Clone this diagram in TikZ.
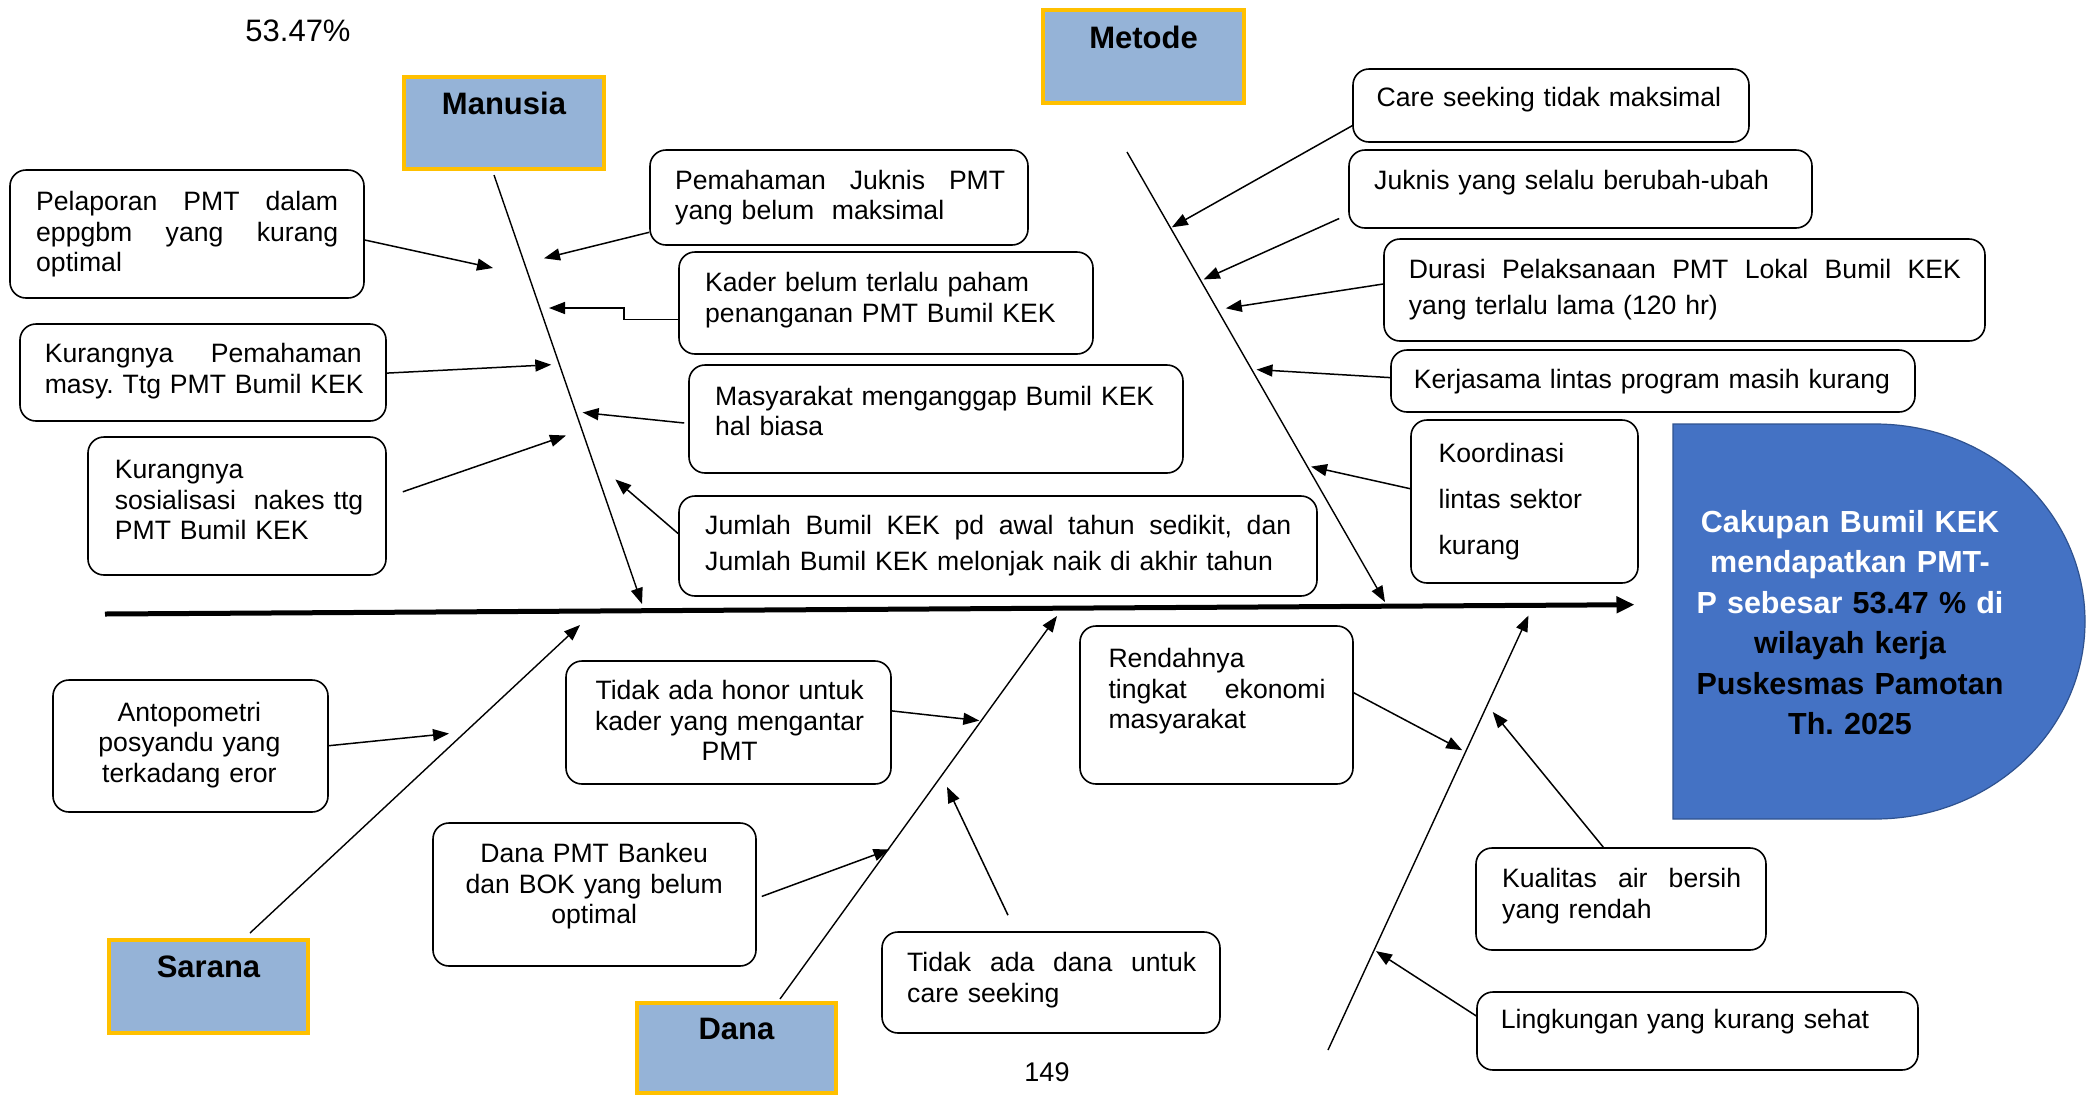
\documentclass[tikz,border=0pt]{standalone}
\usepackage{fontspec}
\setmainfont{Liberation Sans}
\usetikzlibrary{arrows.meta,calc}
\definecolor{catfill}{HTML}{95B3D7}
\definecolor{catedge}{HTML}{FFC000}
\definecolor{effill}{HTML}{4472C4}
\definecolor{efedge}{HTML}{2F528F}
\newcommand{\jline}[2]{\leavevmode\hbox to #1{#2}}
\begin{document}
\frenchspacing
\begin{tikzpicture}[x=1pt,y=-1pt,
  cbox/.style={draw=black, line width=1.6pt, rounded corners=16pt, fill=white, inner sep=0pt},
  catbox/.style={draw=catedge, line width=4.5pt, fill=catfill, inner sep=0pt},
  catlbl/.style={inner sep=0pt, anchor=base, font=\fontsize{31}{36}\selectfont\bfseries},
  txt/.style={inner sep=0pt, anchor=base west, align=left, font=\fontsize{26.6}{30.6}\selectfont},
  ctxt/.style={inner sep=0pt, anchor=base, align=center, font=\fontsize{26.6}{30.6}\selectfont},
  bone/.style={line width=1.4pt, -{Triangle[length=16pt,width=12pt]}},
  arr/.style={line width=1.5pt, -{Triangle[length=16pt,width=12pt]}},
  spine/.style={line width=5pt, -{Triangle[length=18pt,width=16pt]}}
]
\useasboundingbox[fill=white] (0,0) rectangle (2089,1096);

% title percentage and page number
\node[inner sep=0pt, anchor=base, font=\fontsize{31}{36}\selectfont] (pct) at (298,41.3) {53.47\%};
\node[inner sep=0pt, anchor=base, font=\fontsize{27}{31}\selectfont] (pg) at (1047,1081) {149};

% effect shape
\fill[effill, draw=efedge, line width=1.2pt] (1673,424) -- (1875,424)
  .. controls (1991,424) and (2085,512.4) .. (2085,621.5)
  .. controls (2085,730.6) and (1991,819) .. (1875,819) -- (1673,819) -- cycle;
\node[inner sep=0pt, anchor=base, align=center, text width=400pt,
      font=\fontsize{30.5}{40.4}\selectfont\bfseries] (eff) at (1850,532.5)
  {\textcolor{white}{Cakupan Bumil KEK}\\
   \textcolor{white}{mendapatkan PMT-}\\
   \textcolor{white}{P sebesar} 53.47 \% \textcolor{white}{di}\\
   wilayah kerja\\
   Puskesmas Pamotan\\
   Th. 2025};

% category boxes
\node[catbox, minimum width=200pt, minimum height=92pt] (man) at (504,123) {};
\node[catlbl] (manl) at (504,114.8) {Manusia};
\node[catbox, minimum width=201pt, minimum height=93pt] (met) at (1143.5,56.5) {};
\node[catlbl] (metl) at (1143.5,48.2) {Metode};
\node[catbox, minimum width=199pt, minimum height=93pt] (sar) at (208.5,986.5) {};
\node[catlbl] (sarl) at (208.5,977.6) {Sarana};
\node[catbox, minimum width=199pt, minimum height=90pt] (dan) at (736.5,1048) {};
\node[catlbl] (danl) at (736.5,1039.2) {Dana};

% spine
\coordinate (s0) at (105,614);
\coordinate (s1) at (1634.5,604.7);
\draw[spine] (s0) -- (s1);

% bones
\coordinate (mh) at (494,175);   \coordinate (mt) at (642,604);
\coordinate (eh) at (1127,152);  \coordinate (et) at (1385,602);
\coordinate (sh) at (250,933);   \coordinate (st) at (580,625);
\coordinate (dh) at (780,999);   \coordinate (dt) at (1057,616);
\coordinate (lh) at (1328,1050); \coordinate (lt) at (1528.5,615.5);
\draw[bone] (mh) -- (mt);
\draw[bone] (eh) -- (et);
\draw[bone] (sh) -- (st);
\draw[bone] (dh) -- (dt);
\draw[bone] (lh) -- (lt);

% cause boxes
\node[cbox, minimum width=354pt, minimum height=128pt] (b1) at (187,234) {};
\node[cbox, minimum width=378pt, minimum height=95pt] (b2) at (839,197.5) {};
\node[cbox, minimum width=414pt, minimum height=102pt] (b3) at (886,303) {};
\node[cbox, minimum width=366pt, minimum height=97pt] (b4) at (203,372.5) {};
\node[cbox, minimum width=494pt, minimum height=108pt] (b5) at (936,419) {};
\node[cbox, minimum width=298pt, minimum height=138pt] (b6) at (237,506) {};
\node[cbox, minimum width=638pt, minimum height=100pt] (b7) at (998,546) {};
\node[cbox, minimum width=396pt, minimum height=73pt] (b8) at (1551,105.5) {};
\node[cbox, minimum width=463pt, minimum height=78pt] (b9) at (1580.5,189) {};
\node[cbox, minimum width=601pt, minimum height=102pt] (b10) at (1684.5,290) {};
\node[cbox, minimum width=524pt, minimum height=62pt] (b11) at (1653,381) {};
\node[cbox, minimum width=227pt, minimum height=163pt] (b12) at (1524.5,501.5) {};
\node[cbox, minimum width=275pt, minimum height=132pt] (b13) at (190.5,746) {};
\node[cbox, minimum width=325pt, minimum height=123pt] (b14) at (728.5,722.5) {};
\node[cbox, minimum width=323pt, minimum height=143pt] (b15) at (594.5,894.5) {};
\node[cbox, minimum width=338pt, minimum height=101pt] (b16) at (1051,982.5) {};
\node[cbox, minimum width=273pt, minimum height=158pt] (b17) at (1216.5,705) {};
\node[cbox, minimum width=290pt, minimum height=102pt] (b18) at (1621,899) {};
\node[cbox, minimum width=441pt, minimum height=78pt] (b19) at (1697.5,1031) {};

% cause texts
\node[txt, text width=340pt] (t1) at (36,210.5)
  {\jline{302pt}{Pelaporan\hfill PMT\hfill dalam}\\ \jline{302pt}{eppgbm\hfill yang\hfill kurang}\\ optimal};
\node[txt, text width=360pt, font=\fontsize{26.6}{29.7}\selectfont] (t2) at (675,189.7)
  {\jline{330pt}{Pemahaman\hfill Juknis\hfill PMT}\\ yang belum\ \ maksimal};
\node[txt, text width=380pt] (t3) at (705,291.7)
  {Kader belum terlalu paham\\ penanganan PMT Bumil KEK};
\node[txt, text width=350pt] (t4) at (44.6,362.8)
  {\jline{317pt}{Kurangnya\hfill Pemahaman}\\ masy. Ttg PMT Bumil KEK};
\node[txt, text width=460pt] (t5) at (715,405)
  {Masyarakat menganggap Bumil KEK\\ hal biasa};
\node[txt, text width=270pt] (t6) at (114.7,478.4)
  {Kurangnya\\ sosialisasi\ \ nakes ttg\\ PMT Bumil KEK};
\node[txt, text width=610pt, font=\fontsize{26.6}{35.6}\selectfont] (t7) at (705,534.4)
  {\jline{586pt}{Jumlah\hfill Bumil\hfill KEK\hfill pd\hfill awal\hfill tahun\hfill sedikit,\hfill dan}\\ Jumlah Bumil KEK melonjak naik di akhir tahun};
\node[txt, text width=370pt] (t8) at (1376.5,106.8) {Care seeking tidak maksimal};
\node[txt, text width=430pt] (t9) at (1374,189) {Juknis yang selalu berubah-ubah};
\node[txt, text width=570pt, font=\fontsize{26.6}{35.6}\selectfont] (t10) at (1408.7,278.8)
  {\jline{552pt}{Durasi\hfill Pelaksanaan\hfill PMT\hfill Lokal\hfill Bumil\hfill KEK}\\ yang terlalu lama (120 hr)};
\node[txt, text width=490pt] (t11) at (1413.7,388.3) {Kerjasama lintas program masih kurang};
\node[txt, text width=190pt, font=\fontsize{26.6}{45.9}\selectfont] (t12) at (1438.4,462.6)
  {Koordinasi\\ lintas sektor\\ kurang};
\node[ctxt, text width=260pt] (t13) at (189.4,721.3)
  {Antopometri\\ posyandu yang\\ terkadang eror};
\node[ctxt, text width=320pt] (t14) at (729.6,699.7)
  {Tidak ada honor untuk\\ kader yang mengantar\\ PMT};
\node[ctxt, text width=320pt] (t15) at (594.2,862.7)
  {Dana PMT Bankeu\\ dan BOK yang belum\\ optimal};
\node[txt, text width=310pt, font=\fontsize{26.6}{31.3}\selectfont] (t16) at (907,971.3)
  {\jline{289pt}{Tidak\hfill ada\hfill dana\hfill untuk}\\ care seeking};
\node[txt, text width=240pt, font=\fontsize{26.6}{30.3}\selectfont] (t17) at (1108.3,667.7)
  {Rendahnya\\ \jline{217pt}{tingkat\hfill ekonomi}\\ masyarakat};
\node[txt, text width=260pt, font=\fontsize{26.6}{31.4}\selectfont] (t18) at (1502,887)
  {\jline{239pt}{Kualitas\hfill air\hfill bersih}\\ yang rendah};
\node[txt, text width=420pt] (t19) at (1500.6,1028.8) {Lingkungan yang kurang sehat};

% arrow targets
\coordinate (p1) at (493,268);
\coordinate (p2) at (544,258.3);
\coordinate (p3) at (549,308);
\coordinate (p4) at (551.3,364.7);
\coordinate (p5) at (582.6,412.5);
\coordinate (p6) at (566,435.5);
\coordinate (p7) at (615.3,479.4);
\coordinate (p8) at (1171.8,227.3);
\coordinate (p9) at (1203.8,279.4);
\coordinate (p10) at (1225.8,308.3);
\coordinate (p11) at (1256.5,369.6);
\coordinate (p12) at (1311,466.6);
\coordinate (p13) at (449,733.5);
\coordinate (p14) at (979.3,720.6);
\coordinate (p15) at (889.5,849.4);
\coordinate (p16) at (947,786.8);
\coordinate (p17) at (1462.2,750.2);
\coordinate (p18) at (1492.7,711.9);
\coordinate (p19) at (1376,951.1);

% cause arrows
\draw[arr] (b1.east |- 0,240) -- (p1);
\draw[arr] (b2.west |- 0,232.3) -- (p2);
\draw[arr] (b3.west |- 0,319.4) -- (624,319.4) -- (624,308) -- (p3);
\draw[arr] (b4.east |- 0,373.1) -- (p4);
\draw[arr] ($(b5.west |- 0,423)+(-4,0)$) -- (p5);
\draw[arr] ($(b6.east |- 0,491.8)+(16,0)$) -- (p6);
\draw[arr] (b7.west |- 0,533.6) -- (p7);
\draw[arr] (b8.west |- 0,125.7) -- (p8);
\draw[arr] ($(b9.west |- 0,218.5)+(-9,0)$) -- (p9);
\draw[arr] (b10.west |- 0,284) -- (p10);
\draw[arr] (b11.west |- 0,377.6) -- (p11);
\draw[arr] (b12.west |- 0,488.7) -- (p12);
\draw[arr] (b13.east |- 0,745.7) -- (p13);
\draw[arr] (b14.east |- 0,710.9) -- (p14);
\draw[arr] ($(b15.east |- 0,896.4)+(5,0)$) -- (p15);
\draw[arr] ($(b16.north -| 1008,0)+(0,-16)$) -- (p16);
\draw[arr] (b17.east |- 0,692.8) -- (p17);
\draw[arr] (b18.north -| 1603.3,0) -- (p18);
\draw[arr] (b19.west |- 0,1015.9) -- (p19);
\end{tikzpicture}
\end{document}
